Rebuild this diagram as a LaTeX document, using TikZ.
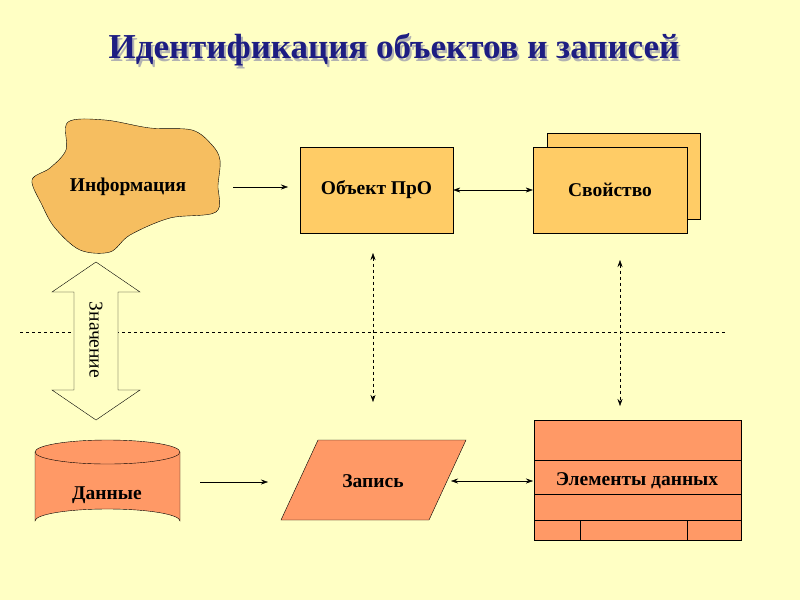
\documentclass[tikz,border=0pt]{standalone}
\usepackage{fontspec}
\setmainfont{Liberation Serif}
\usetikzlibrary{arrows.meta,shapes.geometric,shapes.arrows}
\definecolor{bg}{RGB}{255,255,196}
\definecolor{blobc}{RGB}{246,190,96}
\definecolor{boxc}{RGB}{255,204,102}
\definecolor{salmon}{RGB}{255,153,102}
\definecolor{navy}{RGB}{30,30,130}
\tikzset{
 lbl/.style={font=\bfseries\fontsize{19.5}{22}\selectfont},
 ybox/.style={draw,fill=boxc,minimum width=153pt,minimum height=86pt,inner sep=0pt},
 con/.style={-{Stealth[length=7pt,width=5pt]}},
 dcon/.style={{Stealth[length=7pt,width=5pt]}-{Stealth[length=7pt,width=5pt]}},
 ddcon/.style={dcon,dashed},
}
\begin{document}
\begin{tikzpicture}[x=1pt,y=-1pt]
\fill[bg] (0,0) rectangle (800,600);
\useasboundingbox (0,0) rectangle (800,600);
% title
\node[text=gray!60,font=\bfseries\fontsize{35}{38}\selectfont] at (396,53) {Идентификация объектов и записей};
\node (title) [text=navy,font=\bfseries\fontsize{35}{38}\selectfont] at (394,50) {Идентификация объектов и записей};
% horizontal dashed line
\draw[dashed] (20,332) -- (725,332);
% blob
\draw[fill=blobc] plot[smooth cycle,tension=0.55] coordinates {(68,122) (105,120) (150,128) (192,130) (212,145) (220,160) (218,185) (216,212) (170,218) (130,235) (110,252) (80,250) (55,228) (42,205) (32,180) (50,168) (66,150)};
\node (info) [lbl] at (128,187) {Информация};
% object
\node (obj) [ybox] at (376.5,190) {};
\node[lbl] at (obj) {Объект ПрО};
\draw[fill=boxc] (547,133) rectangle (700,219);
\node (prop) [ybox,minimum width=154pt] at (610,190) {};
\node[lbl] at (prop) {Свойство};
\coordinate (a1) at (233,187); \coordinate (a2) at (288,187);
\draw[con] (a1) -- (a2);
\draw[dcon] (obj.east) -- (prop.west);
% dashed verticals
\coordinate (v1) at (373,253); \coordinate (v2) at (373,402);
\coordinate (w1) at (620,260); \coordinate (w2) at (620,406);
\draw[ddcon] (v1) -- (v2);
\draw[ddcon] (w1) -- (w2);
% big double arrow
\draw[fill=bg] (96,262) -- (140,292) -- (118,292) -- (118,390) -- (140,390) -- (96,420) -- (52,390) -- (74,390) -- (74,292) -- (52,292) -- cycle;
\node (zn) [rotate=-90,font=\fontsize{19.5}{22}\selectfont] at (96,340) {Значение};
% cylinder
\draw[fill=salmon] (35,452) -- (35,521) arc[start angle=180,end angle=360,x radius=72.5,y radius=12] -- (180,452);
\draw[fill=salmon] (107.5,452) ellipse[x radius=72.5,y radius=12];
\node (data) [lbl] at (107,495) {Данные};
\coordinate (b1) at (200,482); \coordinate (b2) at (268,482);
\draw[con] (b1) -- (b2);
% parallelogram
\draw[fill=salmon] (281,520) -- (318,440) -- (466,440) -- (429,520) -- cycle;
\node (rec) [lbl] at (373,481) {Запись};
% table
\draw[fill=salmon] (534,420) rectangle (741,540);
\draw (534,460) -- (741,460) (534,494) -- (741,494) (534,520) -- (741,520) (580,520) -- (580,540) (687,520) -- (687,540);
\node (el) [lbl] at (637,481) {Элементы данных};
\coordinate (c1) at (451,481); \coordinate (c2) at (533,481);
\draw[dcon] (c1) -- (c2);
\end{tikzpicture}
\end{document}
